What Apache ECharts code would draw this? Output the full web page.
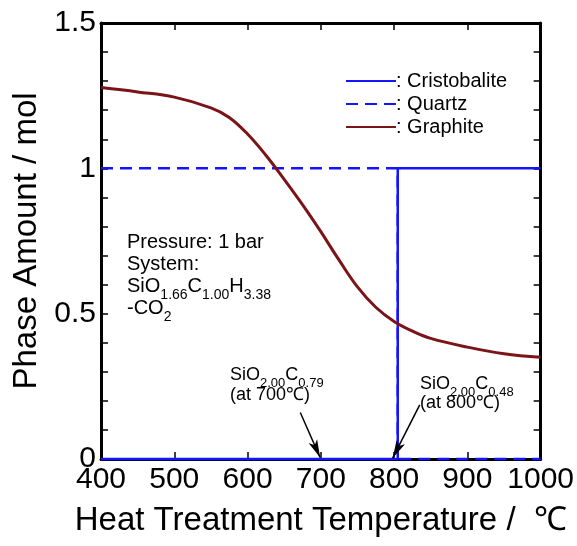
<!DOCTYPE html>
<html>
<head>
<meta charset="utf-8">
<script src="https://cdn.jsdelivr.net/npm/echarts@6/dist/echarts.min.js"></script>
<style>
  html, body { margin: 0; padding: 0; background: #fff; }
  #chart { width: 577px; height: 546px; }
</style>
</head>
<body>
<div id="chart"></div>
<script>
// graphite curve
const temps = [400, 450, 500, 550, 575, 600, 625, 650, 675, 700, 725, 750, 775, 800, 825, 850, 900, 950, 1000];
const graphite = [1.278, 1.263, 1.245, 1.208, 1.175, 1.118, 1.045, 0.962, 0.875, 0.782, 0.684, 0.592, 0.522, 0.473, 0.44, 0.415, 0.385, 0.362, 0.35];

// step lines for the silica phases
const cristoT = [400, 805, 805, 1000];
const cristoY = [0, 0, 1, 1];
const quartzT = [400, 805, 805, 1000];
const quartzY = [1, 1, 0, 0];

const yLabelValues = [0, 0.5, 1, 1.5];
const names = ['Cristobalite', 'Quartz', 'Graphite'];

const BLUE = '#1414ff';
const RED = '#7a1418';
const FONT = '"Liberation Sans", Arial, sans-serif';

function pairs(xs, ys) {
  return xs.map((x, i) => [x, ys[i]]);
}

let myChart = echarts.init(document.getElementById('chart'));

let tickStyle = { show: true, inside: true, length: 7, lineStyle: { color: '#000', width: 1.5 } };
let lineStyleAxis = { show: true, onZero: false, lineStyle: { color: '#000', width: 3 } };

let option = {
  animation: false,
  backgroundColor: '#fff',
  textStyle: { fontFamily: FONT },
  grid: { left: 101, right: 36, top: 23, bottom: 87 },
  legend: {
    data: names,
    orient: 'vertical',
    left: 340,
    top: 66,
    itemWidth: 50,
    itemHeight: 12,
    itemGap: 3,
    itemStyle: { opacity: 0 },
    formatter: ': {name}',
    textStyle: { fontSize: 20, color: '#000', lineHeight: 20, padding: [0, 0, 0, -5] }
  },
  xAxis: [
    {
      type: 'value', min: 400, max: 1000, interval: 100,
      name: 'Heat Treatment Temperature /  ℃',
      nameLocation: 'middle', nameGap: 45,
      nameTextStyle: { fontSize: 33, color: '#000' },
      axisLine: lineStyleAxis,
      axisTick: tickStyle,
      splitLine: { show: false },
      axisLabel: { fontSize: 30, color: '#000', margin: 6, formatter: v => String(v) }
    },
    {
      type: 'value', min: 400, max: 1000, interval: 100, position: 'top',
      axisLine: lineStyleAxis,
      axisTick: tickStyle,
      splitLine: { show: false },
      axisLabel: { show: false }
    }
  ],
  yAxis: [
    {
      type: 'value', min: 0, max: 1.5, interval: 0.1,
      name: 'Phase Amount / mol',
      nameLocation: 'middle', nameGap: 57,
      nameTextStyle: { fontSize: 33, color: '#000' },
      axisLine: lineStyleAxis,
      axisTick: tickStyle,
      splitLine: { show: false },
      axisLabel: {
        fontSize: 30, color: '#000', margin: 5, interval: 0,
        formatter: function (v) {
          let hit = yLabelValues.find(t => Math.abs(t - v) < 1e-6);
          return hit === undefined ? '' : String(hit);
        }
      }
    },
    {
      type: 'value', min: 0, max: 1.5, interval: 0.1, position: 'right',
      axisLine: lineStyleAxis,
      axisTick: tickStyle,
      splitLine: { show: false },
      axisLabel: { show: false }
    }
  ],
  series: [
    {
      name: 'Quartz', type: 'line', symbol: 'none', clip: false,
      data: pairs(quartzT, quartzY),
      lineStyle: { color: BLUE, width: 2.5, type: [12, 7] },
      itemStyle: { color: BLUE },
      z: 3
    },
    {
      name: 'Cristobalite', type: 'line', symbol: 'none', clip: false,
      data: pairs(cristoT, cristoY),
      lineStyle: { color: BLUE, width: 2.5 },
      itemStyle: { color: BLUE },
      z: 4
    },
    {
      name: 'Graphite', type: 'line', symbol: 'none', smooth: 0.4, clip: false,
      data: pairs(temps, graphite),
      lineStyle: { color: RED, width: 3 },
      itemStyle: { color: RED },
      z: 5
    },
    {
      name: 'arrows', type: 'line', data: [], silent: true,
      markLine: {
        silent: true,
        symbol: ['none', 'arrow'],
        symbolSize: [7, 18],
        label: { show: false },
        lineStyle: { color: '#000', width: 1.5, type: 'solid' },
        emphasis: { disabled: true },
        data: [
          [{ coord: [672, 0.16] }, { coord: [699, 0.005] }],
          [{ coord: [835, 0.186] }, { coord: [798, 0.003] }]
        ]
      },
      z: 6
    }
  ],
  graphic: [
    {
      type: 'text', left: 127, top: 232, z: 10,
      style: {
        text: '{b|Pressure: 1 bar}\n{b|System:}\n{b|SiO}{s|1.66}{b|C}{s|1.00}{b|H}{s|3.38}\n{b|-CO}{s|2}',
        fill: '#000', font: '20px ' + FONT,
        rich: {
          b: { fontSize: 20, lineHeight: 22, verticalAlign: 'top', fill: '#000' },
          s: { fontSize: 14, lineHeight: 10, padding: [12, 0, 0, 0], verticalAlign: 'top', fill: '#000' }
        }
      }
    },
    {
      type: 'text', left: 230, top: 366, z: 10,
      style: {
        text: '{b|SiO}{s|2.00}{b|C}{s|0.79}\n{b|(at 700℃)}',
        fill: '#000', font: '18px ' + FONT,
        rich: {
          b: { fontSize: 18, lineHeight: 20, verticalAlign: 'top', fill: '#000' },
          s: { fontSize: 13, lineHeight: 9, padding: [11, 0, 0, 0], verticalAlign: 'top', fill: '#000' }
        }
      }
    },
    {
      type: 'text', left: 420, top: 375, z: 10,
      style: {
        text: '{b|SiO}{s|2.00}{b|C}{s|0.48}\n{b|(at 800℃)}',
        fill: '#000', font: '18px ' + FONT,
        rich: {
          b: { fontSize: 18, lineHeight: 19, verticalAlign: 'top', fill: '#000' },
          s: { fontSize: 13, lineHeight: 8, padding: [11, 0, 0, 0], verticalAlign: 'top', fill: '#000' }
        }
      }
    }
  ]
};

myChart.setOption(option);
</script>
</body>
</html>
